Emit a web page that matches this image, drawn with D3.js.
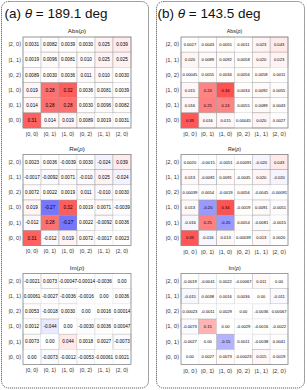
<!DOCTYPE html>
<html>
<head>
<meta charset="UTF-8">
<title>Density matrices</title>
<script src="https://d3js.org/d3.v7.min.js"></script>
<style>
  body { margin: 0; padding: 0; background: #fff; }
  svg { display: block; font-family: "Liberation Sans", Arial, sans-serif; }
</style>
</head>
<body>
<svg width="307" height="390"></svg>
<script>
// basis states, columns left->right and rows top->bottom
const colLabels = ["|0, 0⟩", "|0, 1⟩", "|1, 0⟩", "|0, 2⟩", "|1, 1⟩", "|2, 0⟩"];
const rowLabels = ["|2, 0⟩", "|1, 1⟩", "|0, 2⟩", "|1, 0⟩", "|0, 1⟩", "|0, 0⟩"];

const panelTitles = ["(a) ", "(b) "];
const angles = ["189.1", "143.5"];
const plotNames = ["Abs", "Re", "Im"];

// (a) theta = 189.1 deg
const absA = [
  [0.0031, 0.0082, 0.0039, 0.0030, 0.025, 0.039],
  [0.0019, 0.0096, 0.0081, 0.010, 0.025, 0.025],
  [0.0089, 0.0030, 0.0036, 0.011, 0.010, 0.0030],
  [0.019, 0.28, 0.32, 0.0036, 0.0081, 0.0039],
  [0.014, 0.28, 0.28, 0.0030, 0.0096, 0.0082],
  [0.31, 0.014, 0.019, 0.0089, 0.0019, 0.0031]
];
const reA = [
  [0.0023, 0.0036, -0.0039, 0.0030, -0.024, 0.039],
  [-0.0017, -0.0092, 0.0071, -0.010, 0.025, -0.024],
  [0.0072, 0.0022, 0.0019, 0.011, -0.010, 0.0030],
  [0.019, -0.27, 0.32, 0.0019, 0.0071, -0.0039],
  [-0.012, 0.28, -0.27, 0.0022, -0.0092, 0.0036],
  [0.31, -0.012, 0.019, 0.0072, -0.0017, 0.0023]
];
const imA = [
  [-0.0021, 0.0073, -0.00047, -0.00014, -0.0036, 0],
  [0.00061, -0.0027, -0.0036, -0.0016, 0, 0.0036],
  [0.0053, -0.0018, 0.0030, 0, 0.0016, 0.00014],
  [0.0012, -0.044, 0, -0.0030, 0.0036, 0.00047],
  [0.0073, 0, 0.044, 0.0018, 0.0027, -0.0073],
  [0, -0.0073, -0.0012, -0.0053, -0.00061, 0.0021]
];

// (b) theta = 143.5 deg
const absB = [
  [0.0027, 0.0043, 0.0055, 0.0011, 0.023, 0.043],
  [0.020, 0.0089, 0.0092, 0.0058, 0.020, 0.023],
  [0.00045, 0.0055, 0.0034, 0.0056, 0.0058, 0.0011],
  [0.015, 0.24, 0.34, 0.0034, 0.0092, 0.0055],
  [0.016, 0.25, 0.24, 0.0055, 0.0089, 0.0043],
  [0.33, 0.016, 0.015, 0.00045, 0.020, 0.0027]
];
const reB = [
  [0.0020, -0.0015, -0.0051, -0.00091, -0.020, 0.043],
  [0.013, -0.0081, 0.0091, -0.0045, 0.020, -0.020],
  [0.00039, 0.0054, -0.0019, 0.0056, -0.0045, -0.00091],
  [0.013, -0.20, 0.34, -0.0019, 0.0091, -0.0051],
  [-0.016, 0.25, -0.20, 0.0054, -0.0081, -0.0015],
  [0.33, -0.016, 0.013, 0.00039, 0.013, 0.0020]
];
const imB = [
  [-0.0019, -0.0041, 0.0022, -0.00067, 0.011, 0],
  [-0.015, 0.0038, 0.0016, 0.0036, 0, -0.011],
  [0.00023, -0.0011, 0.0029, 0, -0.0036, 0.00067],
  [-0.0073, 0.15, 0, -0.0029, -0.0016, -0.0022],
  [-0.0027, 0, -0.15, 0.0011, -0.0038, 0.0041],
  [0, 0.0027, 0.0073, -0.00023, 0.015, 0.0019]
];

const svg = d3.select("svg");

// bwr-like diverging colours
const color = d3.scaleLinear()
  .domain([-0.5, 0, 0.5])
  .range(["#0000ff", "#ffffff", "#ff0000"])
  .clamp(true);

const fmt2 = d3.format(".2r");
function fmtVal(v) {
  if (v === 0) return "0.00";
  return fmt2(v).replace("−", "-");
}

const panels = [
  { bx: 1.5, bw: 147, tx: 4.5, gx: 23, gw: 108, numSize: 4.6, tickSize: 5.5, headSize: 6.2,
    mats: [absA, reA, imA] },
  { bx: 156.5, bw: 148, tx: 157.5, gx: 181, gw: 107, numSize: 4.1, tickSize: 5.9, headSize: 5.2,
    mats: [absB, reB, imB] }
];
const gridTops = [37, 154.5, 273.5];
const gridH = 91;

panels.forEach((p, pi) => {
  // dotted rounded frame
  svg.append("rect")
    .attr("x", p.bx).attr("y", 1.5)
    .attr("width", p.bw).attr("height", 386.5)
    .attr("rx", 7)
    .attr("fill", "none")
    .attr("stroke", "#444")
    .attr("stroke-width", 1)
    .attr("stroke-dasharray", "1,1");

  let title = svg.append("text")
    .attr("x", p.tx).attr("y", 18)
    .attr("font-size", 13.5)
    .attr("fill", "#111");
  title.append("tspan").text(panelTitles[pi]);
  title.append("tspan").attr("font-style", "italic").text("θ");
  title.append("tspan").text(" = " + angles[pi] + " deg");

  const x = d3.scaleBand().domain(colLabels).range([p.gx, p.gx + p.gw]);

  p.mats.forEach((mat, mi) => {
    const top = gridTops[mi];
    const y = d3.scaleBand().domain(rowLabels).range([top, top + gridH]);
    const g = svg.append("g");

    const cells = [];
    mat.forEach((row, ri) => row.forEach((v, ci) => cells.push({ r: rowLabels[ri], c: colLabels[ci], v })));

    g.selectAll("rect.cell")
      .data(cells)
      .join("rect")
      .attr("class", "cell")
      .attr("x", d => x(d.c))
      .attr("y", d => y(d.r))
      .attr("width", x.bandwidth())
      .attr("height", y.bandwidth())
      .attr("fill", d => color(d.v))
      .attr("stroke", "#9a9a9a")
      .attr("stroke-width", 0.6)
      .attr("stroke-opacity", d => Math.min(1, Math.abs(d.v) / 0.008) * 0.7);

    g.selectAll("text.val")
      .data(cells)
      .join("text")
      .attr("class", "val")
      .attr("x", d => x(d.c) + x.bandwidth() / 2)
      .attr("y", d => y(d.r) + y.bandwidth() / 2)
      .attr("dy", "0.35em")
      .attr("text-anchor", "middle")
      .attr("font-size", p.numSize)
      .attr("fill", "#000")
      .text(d => fmtVal(d.v));

    // outer frame
    g.append("rect")
      .attr("x", p.gx).attr("y", top)
      .attr("width", p.gw).attr("height", gridH)
      .attr("fill", "none")
      .attr("stroke", "#888")
      .attr("stroke-width", 0.8);

    // heading
    let head = g.append("text")
      .attr("x", p.gx + p.gw / 2)
      .attr("y", top - 4)
      .attr("text-anchor", "middle")
      .attr("font-size", p.headSize)
      .attr("fill", "#222");
    head.append("tspan").text(plotNames[mi] + "(");
    head.append("tspan").attr("font-style", "italic").text("ρ");
    head.append("tspan").text(")");

    // axes
    const ax = g.append("g")
      .attr("transform", `translate(0,${top + gridH})`)
      .call(d3.axisBottom(x).tickSize(0).tickPadding(4));
    ax.select(".domain").remove();
    ax.selectAll("text").attr("font-size", p.tickSize).attr("fill", "#333")
      .attr("font-family", "\"Liberation Sans\", Arial, sans-serif");

    const ay = g.append("g")
      .attr("transform", `translate(${p.gx},0)`)
      .call(d3.axisLeft(y).tickSize(0).tickPadding(2));
    ay.select(".domain").remove();
    ay.selectAll("text").attr("font-size", p.tickSize).attr("fill", "#333")
      .attr("font-family", "\"Liberation Sans\", Arial, sans-serif");
  });
});
</script>
</body>
</html>
